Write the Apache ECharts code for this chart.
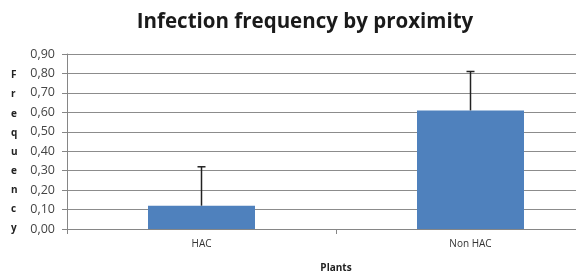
<!DOCTYPE html>
<html>
<head>
	<meta charset="utf-8">
	<title>infection</title>
	<script src="https://cdn.jsdelivr.net/npm/echarts@6/dist/echarts.min.js"></script>
	<style>body{margin:0;background:#fff;}</style>
</head>
<body>
	<div id="main" style="height: 273px; width: 576px;"></div>
	<script type="text/javascript">
		var categories = ['HAC', 'Non HAC'];
		var frequency = [0.12, 0.61];
		var errors = [0.20, 0.20];
		var yName = 'Frequency';

		var myChart = echarts.init(document.getElementById('main'));
		var option = {
			animation: false,
			title: {
				text: 'Infection frequency by proximity',
				left: 300,
				textAlign: 'center',
				top: 7,
				textStyle: {fontFamily: 'Open Sans', fontSize: 20.5, fontWeight: 'bold', color: '#1a1a1a'}
			},
			graphic: [{
				type: 'text',
				left: 11,
				top: 66,
				style: {
					text: yName.split('').join('\n'),
					font: 'bold 10px "Open Sans"',
					lineHeight: 19.1,
					fill: '#222',
					align: 'center'
				}
			}],
			grid: {left: 67, top: 54, width: 538, height: 175, outerBoundsMode: 'none', containLabel: false},
			xAxis: {
				type: 'category',
				data: categories,
				name: 'Plants',
				nameLocation: 'middle',
				nameGap: 34,
				nameTextStyle: {fontFamily: 'Open Sans', fontSize: 10, fontWeight: 'bold', color: '#222'},
				axisLine: {lineStyle: {color: '#868686'}},
				axisTick: {show: true, length: 5, lineStyle: {color: '#868686'}},
				axisLabel: {fontFamily: 'Open Sans', fontSize: 10, color: '#333', margin: 10}
			},
			yAxis: {
				type: 'value',
				min: 0,
				max: 0.9,
				interval: 0.1,
				axisLine: {show: true, lineStyle: {color: '#868686'}},
				axisTick: {show: true, length: 5, lineStyle: {color: '#868686'}},
				splitLine: {lineStyle: {color: '#8c8c8c'}},
				axisLabel: {
					fontFamily: 'Open Sans', fontSize: 12.5, color: '#444', margin: 12,
					formatter: function (v) { return v.toFixed(2).replace('.', ','); }
				}
			},
			series: [{
				type: 'bar',
				data: frequency,
				barWidth: 107,
				itemStyle: {color: '#4f81bd'}
			}, {
				type: 'custom',
				data: frequency.map(function (v, i) { return [i, v, v + errors[i]]; }),
				renderItem: function (params, api) {
					var p0 = api.coord([api.value(0), api.value(1)]);
					var p1 = api.coord([api.value(0), api.value(2)]);
					var st = {stroke: '#222', lineWidth: 1.5};
					return {
						type: 'group',
						children: [
							{type: 'line', shape: {x1: p0[0], y1: p0[1], x2: p1[0], y2: p1[1]}, style: st},
							{type: 'line', shape: {x1: p1[0] - 4, y1: p1[1], x2: p1[0] + 4, y2: p1[1]}, style: st}
						]
					};
				},
				z: 5
			}]
		};
		myChart.setOption(option);
	</script>
</body>
</html>
